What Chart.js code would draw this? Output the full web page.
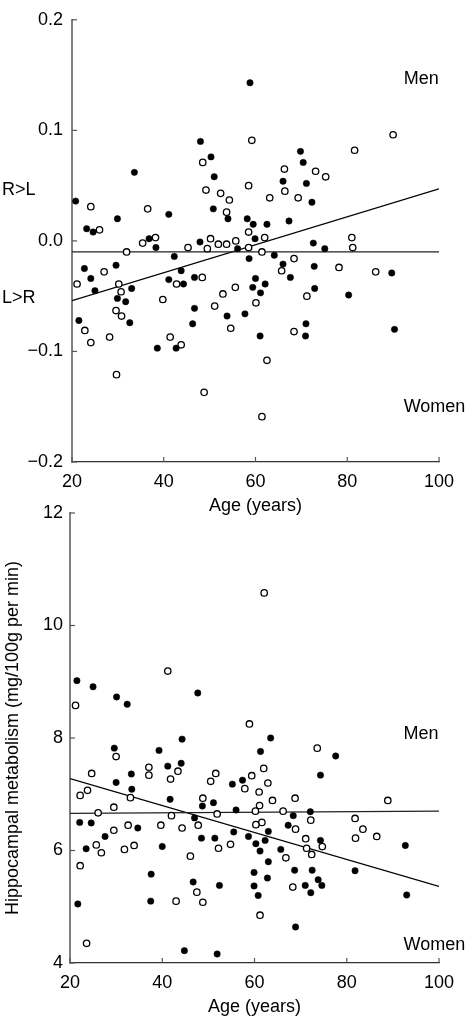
<!DOCTYPE html>
<html>
<head>
  <title>Hippocampal asymmetry and metabolism by age</title>
  <script src="https://cdn.jsdelivr.net/npm/chart.js"></script>
  <style>
    body { margin: 0; background: #fff; }
    .wrap { position: relative; width: 470px; height: 1020px; }
    .wrap canvas { position: absolute; left: 0; }
    #asym-chart { top: 0; }
    #metab-chart { top: 495px; }
  </style>
</head>
<body>
  <div class="wrap">
    <canvas id="asym-chart" width="470" height="520"></canvas>
    <canvas id="metab-chart" width="470" height="525"></canvas>
  </div>
  <script>
    // ---- top panel: asymmetry index vs age ----
    const topFilledAge = [58.8, 20.8, 33.6, 48.0, 50.3, 51.0, 69.8, 70.4, 66.0, 71.1, 72.3, 23.2, 24.6, 29.9, 41.1, 50.8, 54.0, 58.2, 59.5, 62.5, 67.3,
      36.8, 38.3, 47.9, 56.1, 59.9, 72.6, 75.1, 58.6, 42.3, 64.1,
      22.7, 24.1, 25.0, 29.6, 21.5, 29.9, 31.7, 33.0, 32.6, 38.6, 41.1, 43.8, 44.3, 42.7, 46.7, 46.7, 46.3, 53.8, 57.7, 59.4, 60.0, 61.1, 62.1, 61.0, 66.0, 67.6, 72.8, 72.9, 71.0, 70.9, 80.3, 89.7, 90.3];
    const topFilledDiff = [0.143, 0.036, 0.062, 0.090, 0.076, 0.058, 0.081, 0.071, 0.054, 0.052, 0.035, 0.011, 0.008, 0.020, 0.024, 0.029, 0.020, 0.020, 0.015, 0.015, 0.018,
      0.002, -0.006, -0.001, -0.007, 0.002, -0.002, -0.007, -0.016, -0.014, -0.013,
      -0.025, -0.034, -0.045, -0.022, -0.072, -0.052, -0.055, -0.043, -0.074, -0.097, -0.035, -0.027, -0.039, -0.097, -0.033, -0.061, -0.075, -0.068, -0.066, -0.042, -0.034, -0.047, -0.039, -0.086, -0.021, -0.033, -0.023, -0.043, -0.075, -0.086, -0.049, -0.029, -0.080];
    const topOpenAge = [90.0, 59.2, 81.6, 48.5, 66.3, 73.1, 75.3, 49.2, 52.4, 58.5, 54.3, 63.1, 66.4, 69.3, 24.1, 26.0, 36.5, 53.7, 58.5,
      35.4, 38.2, 45.3, 50.2, 49.5, 51.9, 53.7, 55.7, 58.5, 61.4, 62.0, 81.0, 81.2, 31.9,
      21.1, 22.8, 24.1, 27.0, 28.2, 30.2, 30.7, 29.6, 30.8, 29.7, 39.8, 41.4, 42.8, 43.8, 48.4, 48.8, 51.1, 52.9, 55.6, 54.6, 60.1, 62.5, 61.4, 65.7, 68.4, 68.4, 71.2, 78.2, 86.2];
    const topOpenDiff = [0.096, 0.091, 0.082, 0.071, 0.065, 0.063, 0.058, 0.046, 0.043, 0.050, 0.037, 0.039, 0.045, 0.039, 0.031, 0.010, 0.029, 0.026, 0.008,
      -0.002, 0.003, -0.006, 0.002, -0.007, -0.003, -0.003, 0.000, -0.006, -0.010, 0.003, 0.003, -0.006, -0.010,
      -0.039, -0.081, -0.092, -0.028, -0.087, -0.039, -0.046, -0.063, -0.068, -0.121, -0.053, -0.087, -0.039, -0.094, -0.033, -0.137, -0.059, -0.048, -0.042, -0.079, -0.056, -0.108, -0.159, -0.027, -0.016, -0.082, -0.050, -0.024, -0.028];
    const topFlatAge = [20, 100];
    const topFlatVal = [-0.010, -0.010];
    const topTrendAge = [20, 100];
    const topTrendVal = [-0.054, 0.047];
    const topXTicks = [20, 40, 60, 80, 100];
    const topYTicks = [-0.2, -0.1, 0, 0.1, 0.2];

    // ---- bottom panel: hippocampal metabolism vs age ----
    const botFilledAge = [21.5, 25.0, 30.1, 32.4, 47.7, 44.3, 63.5, 29.6, 39.3, 61.3, 77.6, 41.2, 44.1, 33.3, 30.0, 33.4, 41.7, 55.2, 57.4, 74.3,
      51.1, 48.7, 56.0, 72.1, 47.0, 68.4, 67.3, 22.1, 24.6, 34.7, 27.6, 23.5, 40.0, 48.5, 51.4, 55.5, 58.7, 60.3, 62.3, 63.0, 61.2, 65.7, 74.3, 92.7,
      21.7, 37.6, 37.5, 46.7, 52.4, 59.9, 59.9, 60.8, 63.0, 62.8, 68.7, 71.0, 72.5, 72.2, 73.8, 74.6, 81.8, 93.0, 68.9, 44.8, 51.9];
    const botFilledRate = [9.02, 8.91, 8.73, 8.60, 8.80, 7.98, 8.00, 7.82, 7.78, 7.76, 7.68, 7.50, 7.55, 7.36, 7.21, 7.09, 6.91, 7.18, 7.25, 7.34,
      6.85, 6.79, 6.72, 6.69, 6.58, 6.62, 6.45, 6.50, 6.49, 6.40, 6.25, 6.03, 6.07, 6.22, 6.22, 6.33, 6.25, 6.12, 6.18, 6.34, 5.99, 6.02, 6.18, 6.09,
      5.05, 5.58, 5.10, 5.44, 5.38, 5.61, 5.37, 5.20, 5.80, 5.51, 5.65, 5.38, 5.65, 5.25, 5.48, 5.38, 5.64, 5.21, 4.64, 4.22, 4.16];
    const botOpenAge = [62.1, 41.2, 21.2, 58.9, 73.6, 30.0, 37.1, 37.1, 43.4, 41.8, 24.7, 22.2, 23.8, 33.1, 29.5, 26.1, 50.5, 51.6, 48.8, 51.9, 42.0,
      59.4, 57.9, 62.0, 62.9, 61.0, 61.1, 63.9, 60.2, 68.8, 66.2, 88.9, 61.6, 60.3, 72.2, 68.9, 81.8, 83.5, 81.9, 86.5, 71.1, 71.3, 72.4, 74.7,
      22.2, 32.6, 29.5, 39.7, 44.3, 47.8, 25.7, 26.8, 31.8, 33.9, 52.2, 54.8, 46.1, 66.8, 47.5, 48.8, 43.0, 68.3, 61.2, 23.6];
    const botOpenRate = [10.58, 9.19, 8.58, 8.25, 7.82, 7.67, 7.48, 7.34, 7.41, 7.27, 7.37, 6.98, 7.07, 6.94, 6.77, 6.67, 7.23, 7.37, 6.93, 6.65, 6.62,
      7.33, 7.10, 7.46, 7.20, 7.04, 6.80, 6.89, 6.70, 6.93, 6.70, 6.89, 6.50, 6.46, 6.54, 6.38, 6.57, 6.38, 6.22, 6.25, 6.21, 6.04, 5.93, 6.07,
      5.73, 6.45, 6.36, 6.45, 6.40, 6.45, 6.10, 5.96, 6.02, 6.09, 6.04, 6.11, 5.90, 5.87, 5.26, 5.08, 5.10, 5.35, 4.85, 4.35];
    const botFlatAge = [20, 100];
    const botFlatVal = [6.66, 6.70];
    const botTrendAge = [20, 100];
    const botTrendVal = [7.28, 5.36];
    const botXTicks = [20, 40, 60, 80, 100];
    const botYTicks = [4, 6, 8, 10, 12];

    Chart.defaults.font.family = '"Liberation Sans", Arial, sans-serif';
    Chart.defaults.color = '#000';

    const pairs = (xs, ys) => xs.map((x, i) => ({ x: x, y: ys[i] }));

    // inward tick marks + free text labels
    const frame = {
      id: 'frame',
      afterDraw(chart, args, opts) {
        const { ctx, scales: { x, y } } = chart;
        ctx.save();
        ctx.strokeStyle = '#555';
        ctx.lineWidth = 1.2;
        x.ticks.forEach(t => {
          const px = x.getPixelForValue(t.value);
          ctx.beginPath(); ctx.moveTo(px, y.bottom); ctx.lineTo(px, y.bottom - 5); ctx.stroke();
        });
        y.ticks.forEach(t => {
          const py = y.getPixelForValue(t.value);
          ctx.beginPath(); ctx.moveTo(x.left, py); ctx.lineTo(x.left + 5, py); ctx.stroke();
        });
        ctx.fillStyle = '#000';
        ctx.font = '18px "Liberation Sans", Arial, sans-serif';
        ctx.textBaseline = 'middle';
        ctx.textAlign = 'left';
        (opts.notes || []).forEach(n => {
          const px = n.px != null ? n.px : x.getPixelForValue(n.x);
          ctx.fillText(n.text, px, y.getPixelForValue(n.y));
        });
        ctx.restore();
      }
    };

    function scatterSet(data, open) {
      return {
        data: data,
        pointRadius: 3.2,
        pointBackgroundColor: open ? '#fff' : '#000',
        pointBorderColor: '#000',
        pointBorderWidth: open ? 1.3 : 0.5
      };
    }

    function lineSet(data, color) {
      return {
        type: 'line',
        data: data,
        showLine: true,
        borderColor: color,
        borderWidth: 1.3,
        pointRadius: 0,
        fill: false
      };
    }

    function makeChart(id, cfg) {
      return new Chart(document.getElementById(id), {
        type: 'scatter',
        data: {
          datasets: [
            scatterSet(pairs(cfg.filledX, cfg.filledY), false),
            scatterSet(pairs(cfg.openX, cfg.openY), true),
            lineSet(pairs(cfg.flatX, cfg.flatY), '#222'),
            lineSet(pairs(cfg.trendX, cfg.trendY), '#000')
          ]
        },
        options: {
          responsive: false,
          animation: false,
          layout: { padding: { top: cfg.padTop, right: 31, left: 0, bottom: 0 } },
          plugins: {
            legend: { display: false },
            tooltip: { enabled: false },
            frame: { notes: cfg.notes }
          },
          scales: {
            x: {
              type: 'linear',
              min: 20,
              max: 100,
              afterBuildTicks: s => { s.ticks = cfg.xTicks.map(v => ({ value: v })); },
              afterFit: s => { s.height = cfg.xHeight; },
              grid: { display: false, drawTicks: false },
              border: { color: '#333', width: 1.3 },
              ticks: { font: { size: 18 }, padding: 9 },
              title: { display: true, text: 'Age (years)', font: { size: 18 }, padding: { top: 0, bottom: cfg.xTitlePad } }
            },
            y: {
              type: 'linear',
              min: cfg.yTicks[0],
              max: cfg.yTicks[cfg.yTicks.length - 1],
              afterBuildTicks: s => { s.ticks = cfg.yTicks.map(v => ({ value: v })); },
              afterFit: s => { s.width = cfg.yWidth; },
              grid: { display: false, drawTicks: false },
              border: { color: '#808080', width: 2 },
              ticks: { font: { size: 18 }, padding: cfg.yPad, callback: cfg.yFmt },
              title: cfg.yTitle
            }
          }
        },
        plugins: [frame]
      });
    }

    makeChart('asym-chart', {
      filledX: topFilledAge, filledY: topFilledDiff,
      openX: topOpenAge, openY: topOpenDiff,
      flatX: topFlatAge, flatY: topFlatVal,
      trendX: topTrendAge, trendY: topTrendVal,
      xTicks: topXTicks, yTicks: topYTicks,
      yFmt: v => v.toFixed(1).replace('-', '\u2212'),
      padTop: 10, xHeight: 58, yWidth: 72, yPad: 9, xTitlePad: 3,
      yTitle: { display: false },
      notes: [
        { text: 'Men', x: 92.3, y: 0.146 },
        { text: 'Women', x: 92.3, y: -0.150 },
        { text: 'R>L', px: 2, y: 0.046 },
        { text: 'L>R', px: 2, y: -0.052 }
      ]
    });

    makeChart('metab-chart', {
      filledX: botFilledAge, filledY: botFilledRate,
      openX: botOpenAge, openY: botOpenRate,
      flatX: botFlatAge, flatY: botFlatVal,
      trendX: botTrendAge, trendY: botTrendVal,
      xTicks: botXTicks, yTicks: botYTicks,
      yFmt: v => String(v),
      padTop: 18, xHeight: 57, yWidth: 70, yPad: 7, xTitlePad: 2,
      yTitle: { display: true, text: 'Hippocampal metabolism (mg/100g per min)', font: { size: 18 }, padding: { top: 2, bottom: 0 } },
      notes: [
        { text: 'Men', x: 92.3, y: 8.07 },
        { text: 'Women', x: 92.3, y: 4.32 }
      ]
    });
  </script>
</body>
</html>
